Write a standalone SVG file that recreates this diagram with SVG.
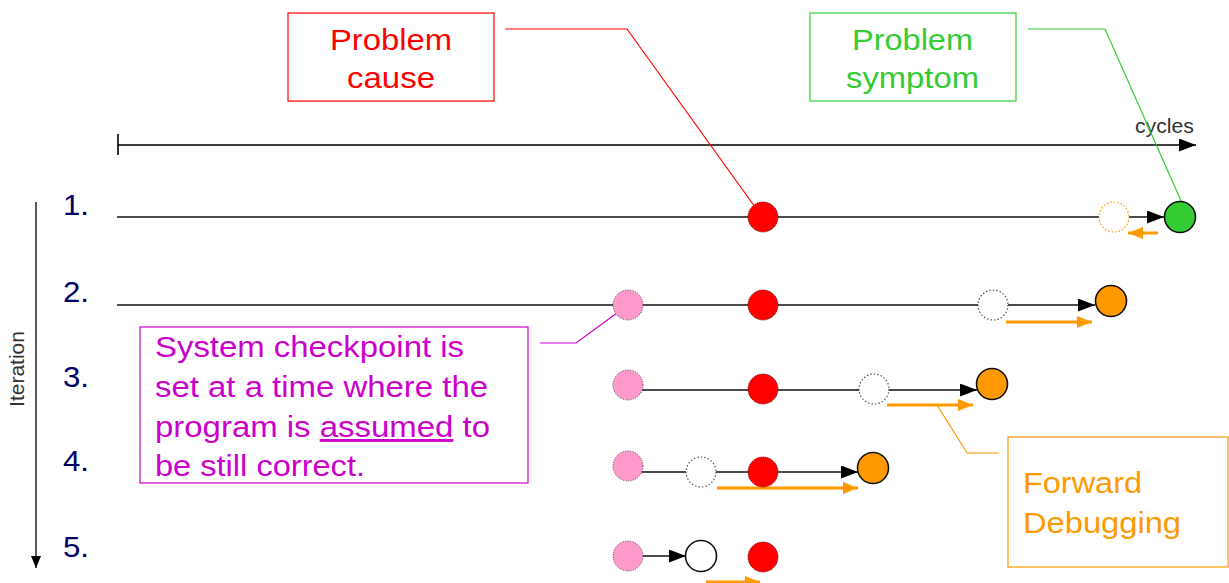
<svg xmlns="http://www.w3.org/2000/svg" width="1229" height="583" viewBox="0 0 1229 583">
  <style>
    text { font-family: "Liberation Sans", Arial, sans-serif; }
    .num { font-size: 29px; fill: #000066; }
    .track { stroke: #111; stroke-width: 1.7; fill: none; }
    .fwd { stroke: #ff9900; stroke-width: 3; fill: none; }
    .red { fill: #ff0000; stroke: #660000; stroke-width: 1; stroke-dasharray: 1 1; }
    .pink { fill: #ff99cc; stroke: #444; stroke-width: 1; stroke-dasharray: 1 1.5; }
    .ghost { fill: #fff; stroke: #555; stroke-width: 1.2; stroke-dasharray: 1.5 2; }
    .done { fill: #ff9900; stroke: #111; stroke-width: 1.6; }
  </style>
  <defs>
    <marker id="tri" markerUnits="userSpaceOnUse" markerWidth="17" markerHeight="13" viewBox="0 0 17 13" refX="17" refY="6.5" orient="auto">
      <path d="M0,0 L17,6.5 L0,13 z" fill="#000"/>
    </marker>
    <marker id="triSmall" markerUnits="userSpaceOnUse" markerWidth="12" markerHeight="10" viewBox="0 0 12 10" refX="12" refY="5" orient="auto">
      <path d="M0,0 L12,5 L0,10 z" fill="#000"/>
    </marker>
    <marker id="triOrange" markerUnits="userSpaceOnUse" markerWidth="15" markerHeight="12" viewBox="0 0 15 12" refX="15" refY="6" orient="auto">
      <path d="M0,0 L15,6 L0,12 z" fill="#ff9900"/>
    </marker>
  </defs>

  <!-- time axis -->
  <g id="cycle-axis">
    <line x1="118" y1="145" x2="1196" y2="145" stroke="#000" stroke-width="1.6" marker-end="url(#tri)"/>
    <line x1="118" y1="134" x2="118" y2="155" stroke="#000" stroke-width="1.6"/>
    <text x="1135" y="133" font-size="20" fill="#333" textLength="59" lengthAdjust="spacingAndGlyphs">cycles</text>
  </g>

  <!-- iteration axis -->
  <g id="iteration-axis">
    <line x1="36" y1="202" x2="36" y2="568" stroke="#333" stroke-width="1.6" marker-end="url(#triSmall)"/>
    <text transform="translate(24,369) rotate(-90)" text-anchor="middle" font-size="21" fill="#333">Iteration</text>
    <text class="num" x="63" y="215" textLength="26" lengthAdjust="spacingAndGlyphs">1.</text>
    <text class="num" x="63" y="302" textLength="26" lengthAdjust="spacingAndGlyphs">2.</text>
    <text class="num" x="63" y="387" textLength="26" lengthAdjust="spacingAndGlyphs">3.</text>
    <text class="num" x="63" y="471" textLength="26" lengthAdjust="spacingAndGlyphs">4.</text>
    <text class="num" x="63" y="557" textLength="26" lengthAdjust="spacingAndGlyphs">5.</text>
  </g>

  <!-- connectors: execution tracks, callout leaders, forward-debugging arrows -->
  <g id="connectors">
    <line class="track" x1="117" y1="217" x2="1164" y2="217" marker-end="url(#tri)"/>
    <line class="track" x1="117" y1="305" x2="1095" y2="305" marker-end="url(#tri)"/>
    <line class="track" x1="628" y1="390" x2="977" y2="390" marker-end="url(#tri)"/>
    <line class="track" x1="628" y1="472" x2="858" y2="472" marker-end="url(#tri)"/>
    <line class="track" x1="643" y1="556" x2="686" y2="556" marker-end="url(#tri)"/>

    <polyline points="505,29 627,29 755,207" fill="none" stroke="#ff0000" stroke-width="1.2"/>
    <polyline points="1028,29 1105,29 1182,203" fill="none" stroke="#33cc33" stroke-width="1.2"/>
    <polyline points="540,343 576,343 617,313" fill="none" stroke="#cc00cc" stroke-width="1.2"/>
    <polyline points="937,405 967,453 999,453" fill="none" stroke="#ff9900" stroke-width="1.2"/>

    <line class="fwd" x1="1158" y1="233" x2="1128" y2="233" marker-end="url(#triOrange)"/>
    <line class="fwd" x1="1006" y1="322" x2="1092" y2="322" marker-end="url(#triOrange)"/>
    <line class="fwd" x1="887" y1="405" x2="973" y2="405" marker-end="url(#triOrange)"/>
    <line class="fwd" x1="717" y1="488" x2="858" y2="488" marker-end="url(#triOrange)"/>
    <line class="fwd" x1="706" y1="582" x2="760" y2="582" marker-end="url(#triOrange)"/>
  </g>

  <!-- iteration 1 -->
  <g id="run-1">
    <circle class="red" cx="763" cy="217" r="15"/>
    <circle cx="1114" cy="217" r="15" fill="#fff" stroke="#ff9900" stroke-width="1.2" stroke-dasharray="1.5 2"/>
    <circle cx="1180" cy="217" r="15.5" fill="#33cc33" stroke="#111" stroke-width="1.6"/>
  </g>

  <!-- iteration 2 -->
  <g id="run-2">
    <circle class="pink" cx="628" cy="305" r="15"/>
    <circle class="red" cx="763" cy="305" r="15"/>
    <circle class="ghost" cx="993" cy="305" r="15"/>
    <circle class="done" cx="1111" cy="301" r="15.5"/>
  </g>

  <!-- iteration 3 -->
  <g id="run-3">
    <circle class="pink" cx="628" cy="385" r="15"/>
    <circle class="red" cx="763" cy="389" r="15"/>
    <circle class="ghost" cx="874" cy="389" r="15"/>
    <circle class="done" cx="992" cy="384" r="15.5"/>
  </g>

  <!-- iteration 4 -->
  <g id="run-4">
    <circle class="pink" cx="628" cy="466" r="15"/>
    <circle class="ghost" cx="701" cy="472" r="15"/>
    <circle class="red" cx="763" cy="472" r="15"/>
    <circle class="done" cx="873" cy="468" r="15.5"/>
  </g>

  <!-- iteration 5 -->
  <g id="run-5">
    <circle class="pink" cx="628" cy="556" r="15"/>
    <circle cx="701" cy="556" r="15.5" fill="#fff" stroke="#111" stroke-width="1.6"/>
    <circle class="red" cx="763" cy="557" r="15"/>
  </g>

  <!-- callout: problem cause -->
  <g id="problem-cause">
    <rect x="288" y="13" width="206" height="88" fill="#fff" stroke="#ff0000" stroke-width="1.2"/>
    <text x="330" y="50" font-size="29" fill="#ff0000" textLength="122" lengthAdjust="spacingAndGlyphs">Problem</text>
    <text x="347" y="88" font-size="29" fill="#ff0000" textLength="88" lengthAdjust="spacingAndGlyphs">cause</text>
  </g>

  <!-- callout: problem symptom -->
  <g id="problem-symptom">
    <rect x="810" y="13" width="206" height="88" fill="#fff" stroke="#33cc33" stroke-width="1.2"/>
    <text x="852" y="50" font-size="29" fill="#33cc33" textLength="121" lengthAdjust="spacingAndGlyphs">Problem</text>
    <text x="846" y="88" font-size="29" fill="#33cc33" textLength="133" lengthAdjust="spacingAndGlyphs">symptom</text>
  </g>

  <!-- callout: checkpoint -->
  <g id="checkpoint-note" fill="#cc00cc" font-size="29">
    <rect x="140" y="327" width="388" height="156" fill="#fff" stroke="#cc00cc" stroke-width="1.2"/>
    <text x="155" y="357" textLength="309" lengthAdjust="spacingAndGlyphs">System checkpoint is</text>
    <text x="155" y="397" textLength="333" lengthAdjust="spacingAndGlyphs">set at a time where the</text>
    <text x="155" y="437" textLength="335" lengthAdjust="spacingAndGlyphs">program is <tspan text-decoration="underline">assumed</tspan> to</text>
    <text x="155" y="476" textLength="210" lengthAdjust="spacingAndGlyphs">be still correct.</text>
  </g>

  <!-- callout: forward debugging -->
  <g id="forward-debugging" fill="#ff9900" font-size="29">
    <rect x="1008" y="437" width="220" height="130" fill="#fff" stroke="#ff9900" stroke-width="1.2"/>
    <text x="1023" y="493" textLength="119" lengthAdjust="spacingAndGlyphs">Forward</text>
    <text x="1023" y="533" textLength="158" lengthAdjust="spacingAndGlyphs">Debugging</text>
  </g>
</svg>
